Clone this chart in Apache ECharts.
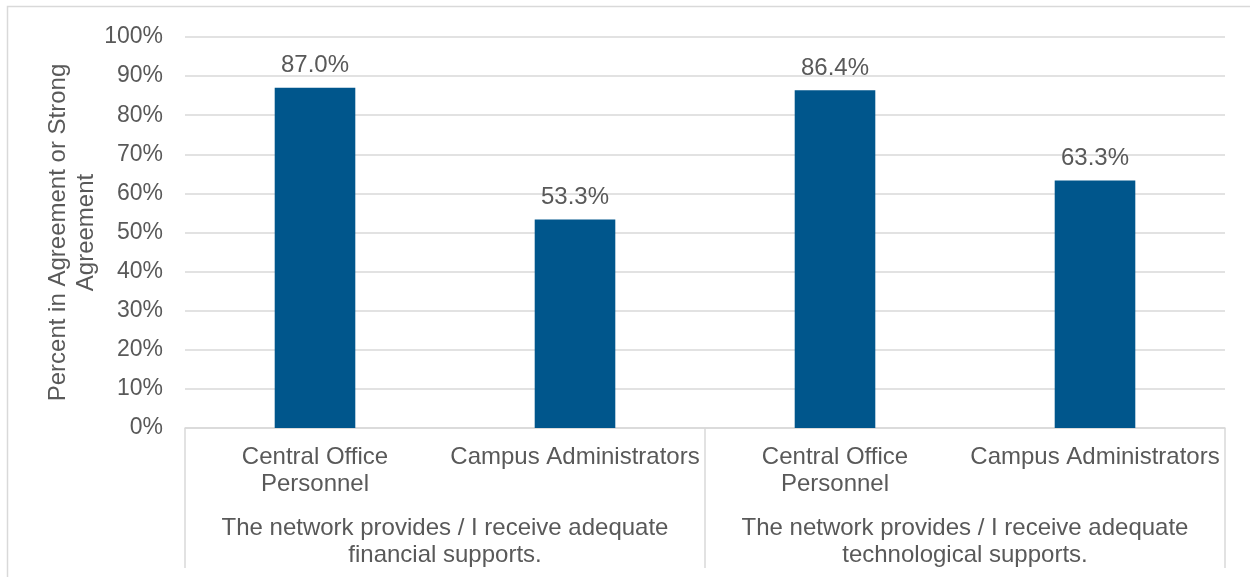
<!DOCTYPE html>
<html>
<head>
<meta charset="utf-8">
<script src="https://cdn.jsdelivr.net/npm/echarts@6/dist/echarts.min.js"></script>
<style>
  html, body { margin: 0; padding: 0; background: #ffffff; }
  #chart { width: 1250px; height: 577px; }
</style>
</head>
<body>
<div id="chart"></div>
<script>
// Respondent groups (inner axis) and survey statements (outer axis)
const roles = ['Central Office\nPersonnel', 'Campus Administrators', 'Central Office\nPersonnel', 'Campus Administrators'];
const statements = [
  'The network provides / I receive adequate\nfinancial supports.',
  'The network provides / I receive adequate\ntechnological supports.'
];
// Percent in agreement or strong agreement
const agreement = [87.0, 53.3, 86.4, 63.3];
const yTicks = [0, 10, 20, 30, 40, 50, 60, 70, 80, 90, 100];

const textColor = '#595959';
const lineColor = '#d9d9d9';
const font = 'Liberation Sans, Arial, sans-serif';

const chart = echarts.init(document.getElementById('chart'), null, { renderer: 'canvas' });

chart.setOption({
  animation: false,
  backgroundColor: '#ffffff',
  textStyle: { fontFamily: font },
  graphic: [{
    type: 'rect',
    left: 5, top: 4,
    shape: { width: 1300, height: 620 },
    style: { fill: 'none', stroke: lineColor, lineWidth: 1.5 },
    silent: true
  }],
  grid: { left: 185, right: 25, top: 37, bottom: 149, containLabel: false },
  xAxis: [
    {
      type: 'category',
      data: roles,
      position: 'bottom',
      axisLine: { show: true, lineStyle: { color: lineColor, width: 1.5 } },
      axisTick: { show: false },
      axisLabel: {
        color: textColor, fontSize: 24, lineHeight: 27, margin: 16,
        fontFamily: font, interval: 0
      }
    },
    {
      type: 'category',
      data: statements,
      position: 'bottom',
      axisLine: { show: false },
      axisTick: { show: true, length: 140, inside: false, lineStyle: { color: lineColor, width: 1.5 } },
      axisLabel: {
        color: textColor, fontSize: 24, lineHeight: 27, margin: 87,
        fontFamily: font, interval: 0
      },
      splitLine: { show: false }
    }
  ],
  yAxis: {
    type: 'value',
    min: yTicks[0],
    max: yTicks[yTicks.length - 1],
    interval: 10,
    name: 'Percent in Agreement or Strong\nAgreement',
    nameLocation: 'middle',
    nameGap: 85,
    nameMoveOverlap: false,
    nameRotate: 90,
    nameTextStyle: { color: textColor, fontSize: 24, lineHeight: 28, fontFamily: font, align: 'center' },
    axisLine: { show: false },
    axisTick: { show: false },
    axisLabel: {
      color: textColor, fontSize: 23, margin: 22, fontFamily: font,
      formatter: v => v + '%'
    },
    splitLine: { lineStyle: { color: lineColor, width: 1.5 } }
  },
  series: [{
    type: 'bar',
    xAxisIndex: 0,
    data: agreement,
    barWidth: '31%',
    itemStyle: { color: '#00568C' },
    label: {
      show: true,
      position: 'top',
      distance: 10,
      color: textColor,
      fontSize: 24,
      fontFamily: font,
      formatter: p => p.value.toFixed(1) + '%'
    }
  }]
});
</script>
</body>
</html>
